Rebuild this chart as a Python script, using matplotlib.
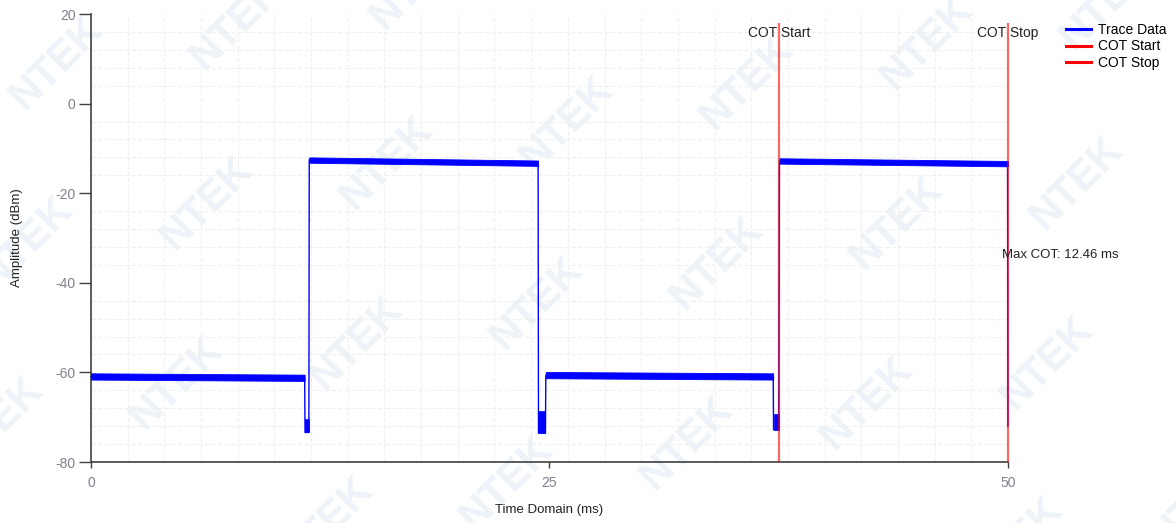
import matplotlib
matplotlib.use("Agg")
import matplotlib.pyplot as plt
from matplotlib.lines import Line2D
from matplotlib.ticker import MultipleLocator

plt.rcParams['font.family'] = ['Liberation Sans', 'DejaVu Sans']
plt.rcParams['axes.unicode_minus'] = False

# trace outline: edges and dips (ms, dBm)
trace_t = [0.0, 11.65, 11.67, 11.88, 11.90, 24.38, 24.40, 24.78, 24.80,
           37.20, 37.22, 37.50, 37.54, 49.98, 50.0]
trace_db = [-61.0, -61.2, -73.4, -73.4, -12.5, -13.3, -73.5, -73.5, -60.6,
            -61.0, -72.8, -72.8, -12.8, -13.5, -72.0]

# noisy plateaus: start/end time, start/end level, half width of the noise
band_t0 = [0.0, 11.90, 24.80, 37.54]
band_t1 = [11.65, 24.38, 37.20, 50.0]
band_lv0 = [-60.9, -12.6, -60.6, -12.8]
band_lv1 = [-61.2, -13.3, -60.9, -13.4]
band_hw = [0.7, 0.6, 0.7, 0.6]

# noisy floor at the bottom of each dip
dip_t0 = [11.67, 24.40, 37.22]
dip_t1 = [11.88, 24.78, 37.50]
dip_top = [-70.3, -68.6, -69.3]
dip_bot = [-73.4, -73.6, -72.9]

cot_start = 37.54
cot_stop = 50.0
max_cot = 12.46

x_ticks = [0, 25, 50]
y_ticks = [-80, -60, -40, -20, 0, 20]

fig = plt.figure(figsize=(11.76, 5.23), dpi=100)

# faint company watermark tiled over the page
wm_x0, wm_y0 = 57, 63
for i in range(-3, 9):
    for j in range(-2, 5):
        px = wm_x0 + 180 * i + 150 * j
        py = wm_y0 - 40 * i + 140 * j
        if -20 < px < 1200 and -20 < py < 545:
            fig.text(px / 1176, 1 - py / 523, "NTEK", rotation=45,
                     fontsize=30, fontweight='bold', color='#edf3f8',
                     ha='center', va='center', zorder=0)

ax = fig.add_axes([0.0774, 0.1166, 0.7797, 0.8566])
ax.set_facecolor('none')
ax.set_zorder(2)

for t0, t1, a, b, hw in zip(band_t0, band_t1, band_lv0, band_lv1, band_hw):
    ax.fill_between([t0, t1], [a - hw, b - hw], [a + hw, b + hw],
                    color='#0000ff', lw=0.6, zorder=3)
for t0, t1, top, bot in zip(dip_t0, dip_t1, dip_top, dip_bot):
    ax.fill_between([t0, t1], [bot, bot], [top, top], color='#0000ff',
                    lw=0.5, zorder=3)
ax.plot(trace_t, trace_db, color='#0000ff', lw=1.0, zorder=3, clip_on=False)

for xv in (cot_start, cot_stop):
    ax.vlines(xv, -80, 18, color='red', alpha=0.6, lw=1.6, zorder=4,
              clip_on=False)

ax.text(cot_start, 15.7, "COT Start", ha='center', va='center',
        fontsize=10, color='#222222', zorder=5)
ax.text(cot_stop, 15.7, "COT Stop", ha='center', va='center',
        fontsize=10, color='#222222', zorder=5, clip_on=False)
ax.text(49.67, -33.7, "Max COT: %.2f ms" % max_cot, ha='left', va='center',
        fontsize=9.5, color='#222222', zorder=5, clip_on=False)

ax.set_xlim(0, 50)
ax.set_ylim(-80, 20)
ax.set_xticks(x_ticks)
ax.set_yticks(y_ticks)
ax.xaxis.set_minor_locator(MultipleLocator(2))
ax.yaxis.set_minor_locator(MultipleLocator(4))
ax.grid(which='minor', color='#efefef', linestyle=(0, (4, 2)), lw=0.8)
ax.set_axisbelow(True)

for s in ('top', 'right'):
    ax.spines[s].set_visible(False)
for s in ('left', 'bottom'):
    ax.spines[s].set_color('#404040')
    ax.spines[s].set_linewidth(1.2)

ax.tick_params(which='minor', length=0)
ax.tick_params(axis='y', which='major', length=9, width=1.0, pad=2,
               colors='#404040', labelcolor='#80808f', labelsize=10)
ax.tick_params(axis='x', which='major', length=4.5, width=1.0, pad=5.5,
               colors='#404040', labelcolor='#80808f', labelsize=10)

ax.set_xlabel("Time Domain (ms)", fontsize=9.5, color='#222222')
ax.xaxis.set_label_coords(0.5, -0.107)
ax.xaxis.label.set_va('center')
ax.set_ylabel("Amplitude (dBm)", fontsize=9.5, color='#222222')
ax.yaxis.set_label_coords(-0.0807, 0.5)
ax.yaxis.label.set_va('center')

handles = [Line2D([], [], color='#0000ff', lw=2.2),
           Line2D([], [], color='red', lw=2.2),
           Line2D([], [], color='red', lw=2.2)]
ax.legend(handles, ["Trace Data", "COT Start", "COT Stop"],
          loc='upper left', bbox_to_anchor=(1066 / 1176, 1 - 23 / 523),
          bbox_transform=fig.transFigure, frameon=False, fontsize=10,
          handlelength=1.8, handletextpad=0.5, labelspacing=0.18,
          borderpad=0, borderaxespad=0)

fig.savefig("out.png", dpi=100)
